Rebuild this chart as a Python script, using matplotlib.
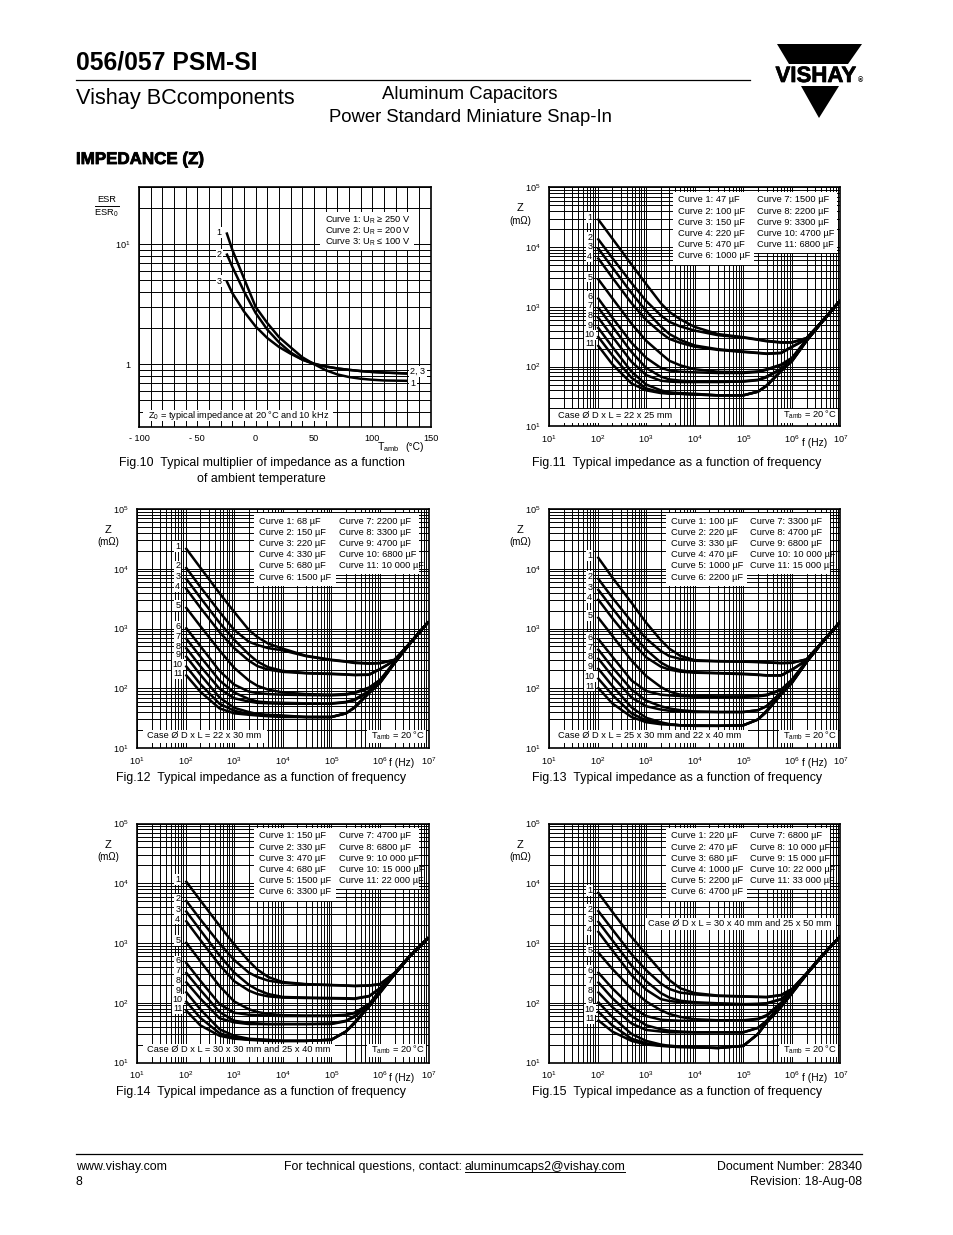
import matplotlib
matplotlib.use("Agg")
import matplotlib.pyplot as plt
import matplotlib.patheffects as pe
from matplotlib.patches import Rectangle, Polygon

plt.rcParams['font.family'] = ['Liberation Sans', 'DejaVu Sans']
plt.rcParams['mathtext.default'] = 'regular'

W, H = 954, 1235

# fig 10 data, ESR multiplier against temperature
temps = [-25, -20, -10, 0, 10, 20, 30, 40, 50, 60, 70, 80, 90, 100, 110, 130]
esr_1 = [12.6, 9.0, 5.2, 3.0, 2.2, 1.68, 1.38, 1.14, 1.0, 0.89, 0.82, 0.78, 0.755, 0.74, 0.73, 0.725]
esr_2 = [8.4, 6.5, 4.05, 2.67, 1.94, 1.52, 1.25, 1.09, 1.01, 0.955, 0.92, 0.895, 0.875, 0.86, 0.85, 0.835]
esr_3 = [4.97, 3.92, 2.75, 2.06, 1.65, 1.39, 1.22, 1.09, 1.0, 0.955, 0.92, 0.895, 0.875, 0.86, 0.85, 0.835]

freq = [100, 200, 500, 1e3, 2e3, 3e3, 5e3, 1e4, 3e4, 1e5, 2e5, 3e5, 6e5, 1e6, 2e6, 4e6, 1e7]

z_fig11 = [
    [30000, 14000, 5100, 2400, 1150, 820, 620, 460, 350, 310, 285, 270, 255, 255, 300, 550, 1290],
    [14000, 6600, 2500, 1250, 720, 560, 470, 400, 335, 305, 280, 265, 252, 252, 298, 550, 1290],
    [9800, 4600, 1700, 850, 470, 350, 280, 225, 195, 178, 170, 165, 170, 215, 290, 545, 1290],
    [6700, 3100, 1150, 600, 370, 290, 250, 215, 190, 175, 168, 163, 168, 212, 288, 545, 1290],
    [3000, 1400, 520, 270, 165, 125, 105, 90, 82, 80, 83, 90, 108, 140, 282, 540, 1290],
    [1430, 660, 250, 140, 95, 86, 82, 80, 78, 78, 81, 88, 105, 137, 280, 540, 1290],
    [1000, 470, 175, 95, 68, 61, 58, 56, 56, 57, 60, 68, 92, 130, 276, 540, 1290],
    [680, 320, 120, 72, 58, 56, 55, 55, 55, 56, 59, 66, 90, 127, 274, 538, 1290],
    [460, 215, 82, 50, 40, 37, 36, 35, 33, 33, 38, 48, 85, 125, 270, 535, 1290],
    [325, 155, 65, 43, 37, 36, 35, 34, 33, 33, 38, 48, 85, 123, 270, 535, 1290],
    [230, 110, 52, 40, 36, 35, 35, 34, 33, 33, 38, 47, 84, 122, 268, 535, 1290],
]
z_fig12 = [
    [22400, 10500, 3900, 1900, 950, 720, 560, 460, 350, 300, 282, 270, 262, 265, 300, 550, 1300],
    [10700, 5000, 1900, 950, 600, 530, 470, 430, 345, 295, 278, 265, 258, 262, 298, 550, 1300],
    [7050, 3300, 1250, 650, 370, 280, 225, 195, 180, 175, 171, 168, 170, 210, 290, 548, 1300],
    [4800, 2250, 870, 470, 290, 235, 205, 188, 178, 173, 169, 166, 168, 208, 290, 548, 1300],
    [2300, 1100, 430, 220, 135, 110, 95, 85, 80, 78, 80, 85, 103, 138, 275, 545, 1300],
    [1050, 510, 195, 115, 88, 83, 80, 78, 77, 76, 78, 83, 100, 135, 272, 545, 1300],
    [700, 340, 135, 85, 66, 60, 58, 57, 56, 56, 59, 65, 90, 130, 270, 540, 1300],
    [485, 235, 98, 68, 60, 57, 56, 55, 55, 55, 58, 63, 88, 128, 268, 540, 1300],
    [350, 170, 70, 47, 40, 37, 36, 35, 33, 33, 38, 48, 85, 125, 265, 538, 1300],
    [240, 118, 55, 42, 37, 36, 35, 34, 33, 33, 38, 48, 84, 123, 265, 538, 1300],
    [170, 88, 46, 38, 36, 35, 34, 33, 33, 33, 38, 47, 83, 122, 262, 538, 1300],
]
z_fig13 = [
    [15900, 7200, 2700, 1250, 640, 460, 350, 295, 285, 280, 276, 272, 265, 268, 305, 570, 1310],
    [7050, 3300, 1300, 680, 420, 345, 310, 288, 282, 278, 274, 270, 263, 266, 303, 570, 1310],
    [4600, 2200, 850, 440, 270, 225, 200, 185, 180, 175, 170, 165, 165, 205, 295, 565, 1310],
    [3150, 1500, 600, 330, 230, 205, 190, 182, 178, 172, 167, 163, 163, 203, 295, 565, 1310],
    [1570, 760, 290, 160, 105, 88, 78, 74, 73, 73, 75, 78, 95, 140, 285, 560, 1310],
    [690, 340, 135, 90, 78, 76, 74, 72, 72, 72, 73, 76, 93, 135, 282, 560, 1310],
    [460, 225, 95, 62, 50, 46, 43, 41, 40, 40, 43, 50, 85, 130, 280, 555, 1310],
    [325, 160, 70, 50, 44, 42, 41, 40, 40, 40, 43, 50, 84, 128, 278, 555, 1310],
    [220, 110, 48, 32, 27, 25, 24, 24, 23.5, 24, 30, 42, 80, 125, 275, 555, 1310],
    [150, 78, 38, 29, 26, 25, 24, 23.5, 23.5, 24, 30, 41, 80, 124, 275, 555, 1310],
    [104, 56, 33, 27, 25, 24.5, 24, 23.5, 23.5, 24, 30, 40, 79, 122, 272, 555, 1310],
]
z_fig14 = [
    [11000, 5200, 1950, 950, 500, 360, 270, 222, 205, 198, 195, 192, 195, 205, 315, 590, 1230],
    [5250, 2500, 980, 520, 320, 270, 235, 215, 203, 197, 193, 190, 194, 203, 315, 590, 1230],
    [3500, 1650, 620, 320, 200, 165, 140, 125, 122, 120, 119, 118, 130, 175, 310, 590, 1230],
    [2400, 1130, 430, 230, 160, 140, 128, 122, 120, 118, 117, 116, 128, 172, 310, 590, 1230],
    [1050, 500, 190, 105, 78, 70, 65, 62, 61, 61, 63, 68, 95, 160, 305, 585, 1230],
    [480, 235, 95, 68, 63, 62, 61, 60, 60, 60, 62, 67, 93, 158, 305, 585, 1230],
    [328, 165, 70, 50, 46, 45, 44, 44, 44, 45, 50, 60, 92, 155, 303, 585, 1230],
    [228, 118, 55, 47, 44, 44, 44, 44, 44, 44, 49, 58, 90, 153, 303, 585, 1230],
    [155, 78, 36, 28, 25, 24.5, 24, 23, 23, 24, 33, 47, 88, 150, 300, 580, 1230],
    [108, 56, 31, 26, 24, 24, 23.5, 23, 23, 24, 33, 46, 88, 148, 300, 580, 1230],
    [76, 42, 28, 25, 24, 23.5, 23, 23, 23, 24, 33, 45, 87, 145, 298, 580, 1230],
]
z_fig15 = [
    [7200, 3350, 1260, 650, 340, 240, 175, 145, 132, 128, 126, 125, 135, 170, 310, 590, 1310],
    [3550, 1700, 650, 350, 210, 170, 148, 138, 130, 127, 125, 124, 134, 168, 310, 590, 1310],
    [2350, 1120, 420, 230, 145, 122, 108, 102, 98, 95, 96, 98, 115, 165, 305, 590, 1310],
    [1600, 760, 290, 165, 115, 107, 102, 98, 96, 94, 95, 97, 114, 163, 305, 590, 1310],
    [716, 370, 170, 105, 75, 65, 58, 53, 51, 51, 54, 62, 100, 158, 303, 588, 1310],
    [330, 175, 85, 60, 52, 51, 50, 50, 50, 50, 53, 60, 98, 156, 303, 588, 1310],
    [226, 120, 60, 42, 36, 34, 33, 32, 32, 32, 38, 50, 92, 150, 300, 585, 1310],
    [154, 85, 45, 35, 33, 32, 32, 32, 32, 32, 38, 49, 90, 148, 300, 585, 1310],
    [105, 58, 30, 23, 20, 19, 18.5, 18, 17.5, 19, 30, 48, 86, 145, 298, 585, 1310],
    [73, 42, 25, 21, 19, 19, 18.5, 18, 17.5, 19, 30, 47, 86, 144, 298, 585, 1310],
    [52, 33, 23, 20, 19, 18.5, 18, 18, 17.5, 19, 30, 46, 85, 143, 298, 585, 1310],
]

caps_fig11 = ['47', '100', '150', '220', '470', '1000', '1500', '2200', '3300', '4700', '6800']
caps_fig12 = ['68', '150', '220', '330', '680', '1500', '2200', '3300', '4700', '6800', '10 000']
caps_fig13 = ['100', '220', '330', '470', '1000', '2200', '3300', '4700', '6800', '10 000', '15 000']
caps_fig14 = ['150', '330', '470', '680', '1500', '3300', '4700', '6800', '10 000', '15 000', '22 000']
caps_fig15 = ['220', '470', '680', '1000', '2200', '4700', '6800', '10 000', '15 000', '22 000', '33 000']

fig = plt.figure(figsize=(W / 100, H / 100), dpi=100)


def axes_px(left, top, right, bottom):
    ax = fig.add_axes([left / W, 1 - bottom / H, (right - left) / W, (bottom - top) / H])
    for s in ax.spines.values():
        s.set_linewidth(1.2)
    return ax


def grid_log(ax):
    ax.grid(True, which='both', color='black', linewidth=0.7)
    ax.set_axisbelow(True)
    ax.tick_params(which='both', length=0, labelsize=6.6)
    ax.tick_params(axis='x', which='both', pad=5)
    ax.tick_params(axis='y', which='both', pad=6)


# fig 10
ax10 = axes_px(139, 187.3, 430.7, 426.7)
ax10.set_yscale('log')
ax10.set_xlim(-100, 150)
ax10.set_ylim(0.3, 30)
ax10.set_xticks(range(-100, 151, 10), minor=True)
ax10.set_xticks([-100, -50, 0, 50, 100, 150])
ax10.set_xticklabels(['- 100', '- 50', '0', '50', '100', '150'])
ax10.set_yticks([1, 10])
ax10.set_yticklabels(['1', '10$^{1}$'])
ax10.set_yticks([0.3, 0.4, 0.5, 0.6, 0.7, 0.8, 0.9, 2, 3, 4, 5, 6, 7, 8, 9, 20, 30], minor=True)
ax10.set_yticklabels([], minor=True)
grid_log(ax10)
for vals in (esr_1, esr_2, esr_3):
    ax10.plot(temps, vals, color='black', lw=1.8, solid_capstyle='butt')


def impedance_chart(left, top, z_curves):
    ax = axes_px(left, top, left + 291.5, top + 239)
    ax.set_xscale('log')
    ax.set_yscale('log')
    ax.set_xlim(10, 1e7)
    ax.set_ylim(10, 1e5)
    ax.set_xticks([10, 1e2, 1e3, 1e4, 1e5, 1e6, 1e7])
    ax.set_yticks([10, 1e2, 1e3, 1e4, 1e5])
    ax.set_xticks([m * 10 ** e for e in range(1, 7) for m in range(2, 10)], minor=True)
    ax.set_yticks([m * 10 ** e for e in range(1, 5) for m in range(2, 10)], minor=True)
    ax.set_xticklabels([], minor=True)
    ax.set_yticklabels([], minor=True)
    grid_log(ax)
    for i, vals in enumerate(z_curves):
        ax.plot(freq, vals, color='black', lw=1.8, solid_capstyle='butt', solid_joinstyle='round')
        ax.annotate(str(i + 1), xy=(freq[0], vals[0]), xytext=(-5.6, 0.8),
                    textcoords='offset points', ha='center', va='center', fontsize=6.5,
                    bbox=dict(facecolor='white', edgecolor='none', pad=0.6))
    return ax


impedance_chart(549, 187.3, z_fig11)
impedance_chart(137, 509, z_fig12)
impedance_chart(549, 509, z_fig13)
impedance_chart(137, 823.5, z_fig14)
impedance_chart(549, 823.5, z_fig15)

# everything else sits on a page layer in pixel coordinates
page = fig.add_axes([0, 0, 1, 1], zorder=10)
page.set_xlim(0, W)
page.set_ylim(H, 0)
page.axis('off')


def txt(x, y, s, size=6.7, ha='left', va='center', **kw):
    return page.text(x, y, s, fontsize=size, ha=ha, va=va, color='black', **kw)


def box(x0, y0, x1, y1):
    page.add_patch(Rectangle((x0, y0), x1 - x0, y1 - y0, facecolor='white', edgecolor='none'))


def curve_legend(col1, col2, y0, caps):
    box(col1 - 5, y0 - 8.5, col2 + 80, y0 + 52.5)
    box(col1 - 5, y0 + 50, col2 - 2.5, y0 + 65)
    for i, c in enumerate(caps):
        if i < 6:
            txt(col1, y0 + i * 11.2, f'Curve {i + 1}: {c} µF')
        else:
            txt(col2, y0 + (i - 6) * 11.2, f'Curve {i + 1}: {c} µF')


def axis_names(x_z, y_z, y_m, x_f, y_f):
    txt(x_z, y_z, 'Z', size=8, ha='center')
    txt(x_z, y_m, '(mΩ)', size=7, ha='center')
    txt(x_f, y_f, 'f (Hz)', size=7.4, ha='center')


TAMB = 'T$_{amb}$ = 20 °C'

# header
txt(76, 70, '056/057 PSM-SI', size=17.8, va='baseline', fontweight='bold')
page.plot([76, 750], [80, 80], color='black', lw=0.9)
txt(76, 104, 'Vishay BCcomponents', size=15.7, va='baseline')
txt(470, 99, 'Aluminum Capacitors', size=13.3, ha='center', va='baseline')
txt(470, 122, 'Power Standard Miniature Snap-In', size=13.3, ha='center', va='baseline')
head = txt(76, 164, 'IMPEDANCE (Z)', size=12.2, va='baseline', fontweight='bold')
head.set_path_effects([pe.withStroke(linewidth=0.6, foreground='black')])

# logo
page.add_patch(Polygon([(777, 44), (862, 44), (848, 64), (789, 64)], facecolor='black', edgecolor='none'))
page.add_patch(Polygon([(801, 86), (839, 86), (819, 118)], facecolor='black', edgecolor='none'))
logo = txt(816, 82, 'VISHAY', size=16, ha='center', va='baseline', fontweight='bold')
logo.set_path_effects([pe.withStroke(linewidth=0.5, foreground='black')])
txt(860.5, 81, '®', size=5, ha='center', fontweight='bold')

# fig 10 page items
txt(106.7, 199, 'ESR', ha='center')
page.plot([95, 119], [206, 206], color='black', lw=0.7)
txt(106.7, 213.5, 'ESR$_{0}$', ha='center')
box(320, 211.7, 414, 250)
txt(325, 220, 'Curve 1: U$_{R}$ ≥ 250 V')
txt(325, 231, 'Curve 2: U$_{R}$ = 200 V')
txt(325, 242.5, 'Curve 3: U$_{R}$ ≤ 100 V')
for x, y, s in [(219.3, 232.7, '1'), (219.3, 254.7, '2'), (219.3, 281, '3'), (418, 371.7, '2, 3'), (413, 384, '1')]:
    txt(x, y, s, size=6.5, ha='center', bbox=dict(facecolor='white', edgecolor='none', pad=0.8))
box(143, 410, 333, 420.5)
txt(148, 415, 'Z$_{0}$ = typical impedance at 20 °C and 10 kHz')
txt(377, 446.7, 'T$_{amb}$', size=7.6)
txt(405, 446.7, '(°C)', size=7.4)
txt(119, 466, 'Fig.10  Typical multiplier of impedance as a function', size=8.95, va='baseline')
txt(197, 482, 'of ambient temperature', size=8.95, va='baseline')

# fig 11
curve_legend(677.7, 756.7, 200, caps_fig11)
box(550, 409, 677, 423)
txt(558, 415, 'Case Ø D x L = 22 x 25 mm')
box(779, 409, 838, 423)
txt(783, 415, TAMB)
axis_names(520, 208, 221.5, 815, 442.7)
txt(532, 466, 'Fig.11  Typical impedance as a function of frequency', size=8.95, va='baseline')

# fig 12
curve_legend(259.3, 338.7, 521, caps_fig12)
box(143, 730, 267, 743)
txt(147.3, 735.7, 'Case Ø D x L = 22 x 30 mm')
box(367, 730, 426, 743)
txt(371, 735.7, TAMB)
axis_names(108, 530, 542, 402, 763)
txt(116, 781, 'Fig.12  Typical impedance as a function of frequency', size=8.95, va='baseline')

# fig 13
curve_legend(670.7, 749.7, 521, caps_fig13)
box(550, 730, 748, 743)
txt(558, 735.7, 'Case Ø D x L = 25 x 30 mm and 22 x 40 mm')
box(779, 730, 838, 743)
txt(783, 735.7, TAMB)
axis_names(520, 530, 542, 815, 763)
txt(532, 781, 'Fig.13  Typical impedance as a function of frequency', size=8.95, va='baseline')

# fig 14
curve_legend(259.3, 338.7, 836, caps_fig14)
box(143, 1044, 335, 1057)
txt(147.3, 1050, 'Case Ø D x L = 30 x 30 mm and 25 x 40 mm')
box(367, 1044, 426, 1057)
txt(371, 1050, TAMB)
axis_names(108, 845, 857, 402, 1078)
txt(116, 1095, 'Fig.14  Typical impedance as a function of frequency', size=8.95, va='baseline')

# fig 15
curve_legend(670.7, 749.7, 836, caps_fig15)
box(645, 918, 836, 930)
txt(648, 924, 'Case Ø D x L = 30 x 40 mm and 25 x 50 mm')
box(779, 1044, 838, 1057)
txt(783, 1050, TAMB)
axis_names(520, 845, 857, 815, 1078)
txt(532, 1095, 'Fig.15  Typical impedance as a function of frequency', size=8.95, va='baseline')

# footer
page.plot([76, 862], [1154, 1154], color='black', lw=0.9)
txt(76, 1170, 'www.vishay.com', size=8.9, va='baseline')
txt(76, 1185, '8', size=8.9, va='baseline')
txt(284, 1170, 'For technical questions, contact:', size=8.9, va='baseline')
txt(465, 1170, 'aluminumcaps2@vishay.com', size=8.9, va='baseline')
page.plot([465, 625], [1172, 1172], color='black', lw=0.7)
txt(862, 1170, 'Document Number: 28340', size=8.9, ha='right', va='baseline')
txt(862, 1185, 'Revision: 18-Aug-08', size=8.9, ha='right', va='baseline')

fig.savefig('out.png', dpi=100)
